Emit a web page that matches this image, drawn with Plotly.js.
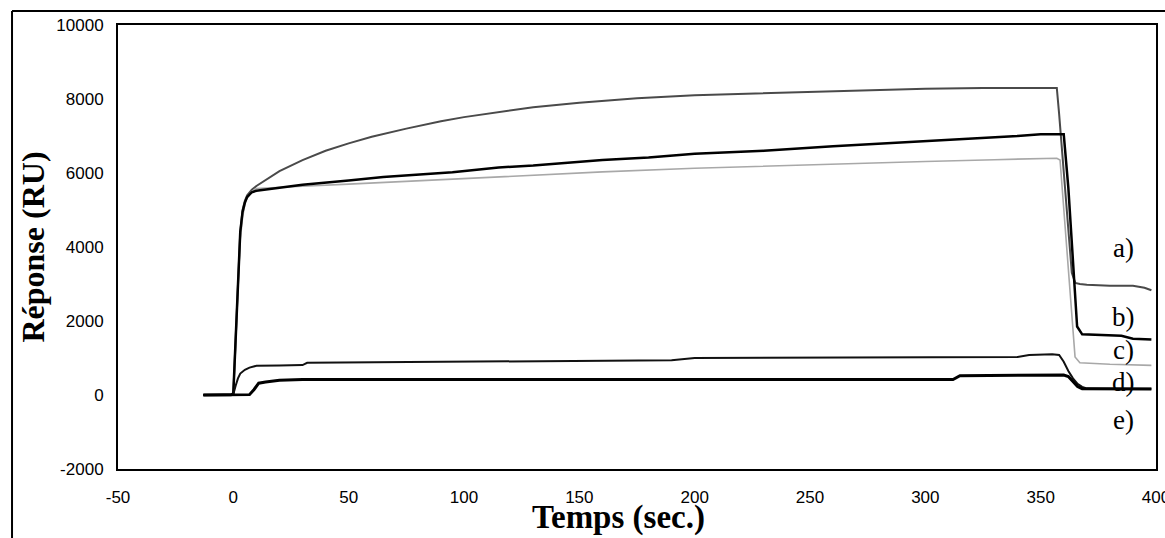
<!DOCTYPE html>
<html>
<head>
<meta charset="utf-8">
<script src="https://cdn.plot.ly/plotly-3.0.1.min.js"></script>
<style>html,body{margin:0;padding:0;background:#fff;}#chart{width:1165px;height:538px;}</style>
</head>
<body>
<div id="chart"></div>
<script>
// Time (sec.) and response (RU) for each curve
const tA = [-13,-1,0,1,2,3,4,5,6,8,10,15,20,30,40,50,60,75,90,100,115,130,150,175,200,225,250,275,300,325,350,357,358,360,362,363.5,365,367,370,380,390,395,398];
const yA = [0,0,50,1500,3200,4400,5000,5250,5400,5550,5650,5850,6050,6350,6600,6800,6980,7200,7400,7510,7650,7780,7900,8020,8100,8150,8200,8250,8280,8300,8300,8300,7600,6000,4300,3300,3030,3000,2980,2950,2950,2900,2830];

const tB = [-13,-1,0,1,2,3,4,5,6,8,10,14,20,30,40,50,65,80,95,115,130,160,180,200,230,260,290,320,340,350,358,360,362,364,365.8,368,375,385,390,398];
const yB = [0,0,50,1600,3300,4400,4950,5200,5350,5480,5520,5560,5600,5680,5750,5800,5890,5950,6020,6150,6200,6350,6420,6520,6600,6720,6820,6920,7000,7050,7060,7050,5600,3500,1850,1640,1620,1600,1520,1500];

const tC = [-13,-1,0,1,2,3,4,5,6,8,10,15,30,50,70,87,110,130,160,200,250,300,330,357,358.4,361.4,363.6,364.9,367,380,398];
const yC = [0,0,40,1300,3000,4200,4800,5150,5350,5500,5580,5600,5640,5700,5760,5810,5880,5950,6030,6130,6230,6310,6360,6400,6350,4000,2200,1030,870,830,800];

const tD = [-13,-1,0,1,2,3,5,7,10,20,30,32,60,100,150,190,200,250,300,340,345,355,358,360,362,364,366,368,370,380,398];
const yD = [0,0,20,250,450,580,680,740,790,800,810,870,880,900,920,940,1000,1010,1020,1030,1080,1100,1080,900,650,450,300,220,180,170,170];

const tE = [-13,0,7,9,11,14,20,30,50,100,200,300,312,315,330,360,362,364,366,368,380,398];
const yE = [0,0,10,150,320,350,400,420,420,420,420,420,420,520,530,540,500,350,230,170,160,160];

const labels = ['a)','b)','c)','d)','e)'];
const labelX = [386,386,386,386,386];
const labelY = [3970,2110,1220,350,-680];

const xTickVals = [-50,0,50,100,150,200,250,300,350,400];
const xTickText = ['-50','0','50','100','150','200','250','300','350','400'];
const yTickVals = [-2000,0,2000,4000,6000,8000,10000];
const yTickText = ['-2000','0','2000','4000','6000','8000','10000'];

const traces = [
  {x:tA,y:yA,mode:'lines',line:{color:'#4a4a4a',width:2}},
  {x:tC,y:yC,mode:'lines',line:{color:'#a8a8a8',width:1.6}},
  {x:tB,y:yB,mode:'lines',line:{color:'#000',width:2.5}},
  {x:tD,y:yD,mode:'lines',line:{color:'#111',width:2}},
  {x:tE,y:yE,mode:'lines',line:{color:'#000',width:3}}
].map(t=>Object.assign(t,{showlegend:false,hoverinfo:'skip'}));

const serif = 'Liberation Serif, Times New Roman, serif';
const annotations = labels.map((s,i)=>({
  x:labelX[i], y:labelY[i], xref:'x', yref:'y', text:s, showarrow:false,
  font:{family:serif, size:27, color:'#000'}
}));
// x-axis title placed as an annotation to match the reference position
annotations.push({
  x:0.482, y:-0.110, xref:'paper', yref:'paper', xanchor:'center', yanchor:'middle',
  text:'Temps (sec.)', showarrow:false,
  font:{family:serif, size:33, color:'#000', weight:'bold'}
});

const tickFont = {family:'Liberation Sans, Arial, sans-serif', size:17, color:'#000'};
const titleFont = {family:serif, size:32, color:'#000', weight:'bold'};

const layout = {
  width:1165, height:538,
  margin:{l:118, r:9, t:25, b:69},
  paper_bgcolor:'#fff', plot_bgcolor:'#fff',
  xaxis:{
    range:[-50,400], tickmode:'array', tickvals:xTickVals, ticktext:xTickText,
    showgrid:false, zeroline:false,
    showline:true, mirror:true, linecolor:'#000', linewidth:2, ticks:'',
    ticklabelstandoff:12, ticklabeloverflow:'allow',
    tickfont:tickFont,
    automargin:false
  },
  yaxis:{
    range:[-2000,10000], tickmode:'array', tickvals:yTickVals, ticktext:yTickText,
    showgrid:false, zeroline:false,
    showline:true, mirror:true, linecolor:'#000', linewidth:2, ticks:'',
    ticklabelstandoff:9,
    tickfont:tickFont,
    title:{text:'Réponse (RU)', standoff:2, font:titleFont},
    automargin:false
  },
  annotations: annotations,
  shapes:[
    {type:'line', xref:'paper', yref:'paper', x0:-0.1021, x1:1.01, y0:1.0315, y1:1.0315, line:{color:'#000', width:2}},
    {type:'line', xref:'paper', yref:'paper', x0:-0.1021, x1:-0.1021, y0:1.0315, y1:-0.16, line:{color:'#000', width:2}}
  ]
};

Plotly.newPlot('chart', traces, layout, {displayModeBar:false, staticPlot:true});
</script>
</body>
</html>
